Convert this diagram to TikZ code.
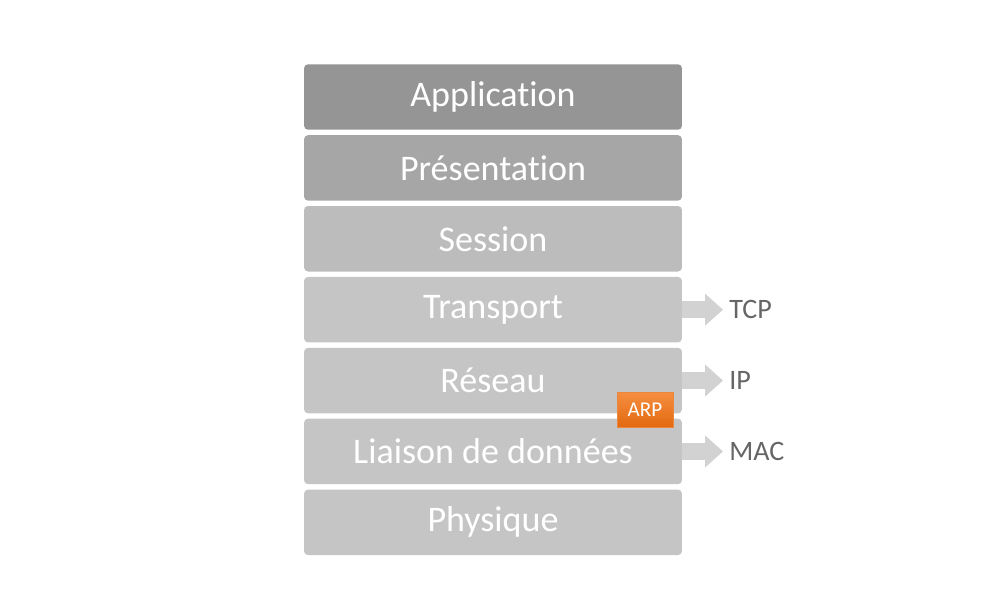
\documentclass[tikz,border=0pt]{standalone}
\usepackage{fontspec}
\setmainfont{Carlito}[Ligatures={NoCommon}]
\usetikzlibrary{arrows.meta,positioning}
\definecolor{layerdark}{HTML}{959595}
\definecolor{layermid}{HTML}{A6A6A6}
\definecolor{layersess}{HTML}{BCBCBC}
\definecolor{layerlight}{HTML}{C5C5C5}
\definecolor{arrowgray}{HTML}{D2D2D2}
\definecolor{labelgray}{HTML}{666666}
\definecolor{arptop}{HTML}{F68E40}
\definecolor{arpbottom}{HTML}{E26910}

\begin{document}
\begin{tikzpicture}[
  x=0.02cm, y=-0.02cm,
  layer/.style={rectangle, fill=layerlight, rounded corners=0.08cm, inner sep=0pt, minimum width=7.56cm, minimum height=1.31cm, align=center, text=white, font=\fontsize{20.5}{24}\selectfont},
  proto/.style={anchor=west, inner sep=0pt, text=labelgray, font=\fontsize{16}{19}\selectfont},
  blockarrow/.style={draw=arrowgray, line width=0.34cm, -{Triangle[length=0.36cm, width=0.62cm]}, shorten >=0.12cm},
  arpbox/.style={rectangle, top color=arptop, bottom color=arpbottom, draw=arpbottom!80!white, line width=0.3pt, minimum width=1.12cm, minimum height=0.7cm, text=white, font=\fontsize{12}{14}\selectfont}
]
  \useasboundingbox (0,0) rectangle (1000,602);
  % OSI stack
  \node[layer, fill=layerdark] (app) at (493,97) {Application};
  \node[layer, fill=layermid, below=0.094cm of app] (pres) {Présentation};
  \node[layer, fill=layersess, below=0.094cm of pres] (sess) {Session};
  \node[layer, below=0.094cm of sess] (trans) {Transport};
  \node[layer, below=0.094cm of trans] (res) {Réseau};
  \node[layer, below=0.094cm of res] (liais) {Liaison de données};
  \node[layer, below=0.094cm of liais] (phys) {Physique};
  % protocols
  \node[proto] (tcp) at (trans.east -| 729,0) {TCP};
  \node[proto] (ip) at (res.east -| 729,0) {IP};
  \node[proto] (mac) at (liais.east -| 729,0) {MAC};
  \draw[blockarrow] (trans.east) -- (tcp.west);
  \draw[blockarrow] (res.east) -- (ip.west);
  \draw[blockarrow] (liais.east) -- (mac.west);
  \node[arpbox] (arp) at (645,409.5) {ARP};
\end{tikzpicture}
\end{document}
